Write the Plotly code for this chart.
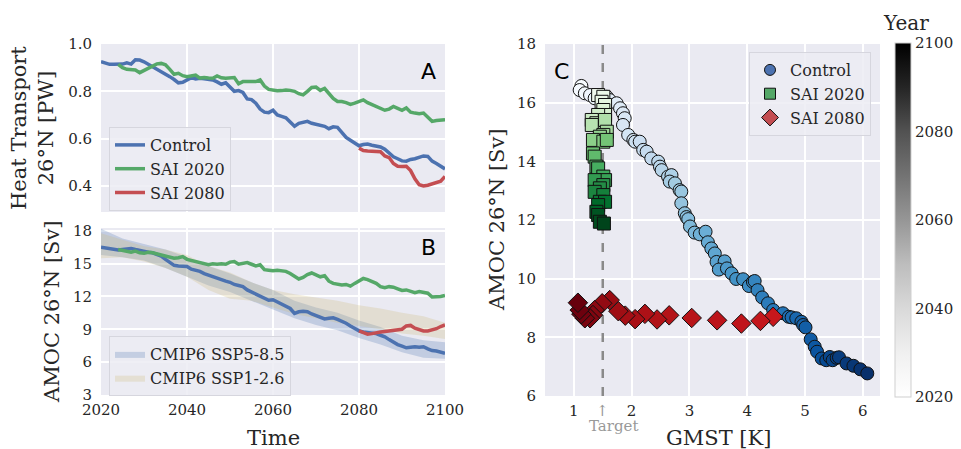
import plotly.graph_objects as go

# ---------------- data ----------------
years = list(range(2020, 2101))
years_sai2020 = list(range(2024, 2101))
years_sai2080 = list(range(2080, 2101))

ht_control = [0.925, 0.918, 0.914, 0.914, 0.913, 0.915, 0.920, 0.915, 0.933, 0.932,
              0.925, 0.915, 0.905, 0.893, 0.882, 0.873, 0.862, 0.850, 0.836, 0.838,
              0.848, 0.858, 0.852, 0.855, 0.853, 0.852, 0.848, 0.840, 0.830, 0.836,
              0.818, 0.800, 0.803, 0.795, 0.768, 0.765, 0.750, 0.725, 0.712, 0.710,
              0.720, 0.700, 0.694, 0.688, 0.670, 0.652, 0.665, 0.668, 0.673, 0.665,
              0.660, 0.655, 0.652, 0.642, 0.650, 0.648, 0.625, 0.605, 0.593, 0.582,
              0.570, 0.575, 0.577, 0.572, 0.567, 0.565, 0.555, 0.537, 0.523, 0.515,
              0.506, 0.505, 0.512, 0.515, 0.520, 0.527, 0.525, 0.505, 0.495, 0.485,
              0.472]
ht_sai2020 = [0.914, 0.900, 0.893, 0.890, 0.890, 0.879, 0.888, 0.900, 0.910, 0.916,
              0.918, 0.912, 0.893, 0.872, 0.876, 0.866, 0.862, 0.865, 0.869, 0.856,
              0.858, 0.856, 0.855, 0.865, 0.857, 0.855, 0.855, 0.858, 0.832, 0.841,
              0.841, 0.841, 0.841, 0.848, 0.822, 0.808, 0.804, 0.802, 0.803, 0.806,
              0.804, 0.800, 0.790, 0.785, 0.800, 0.816, 0.818, 0.804, 0.812, 0.790,
              0.770, 0.757, 0.757, 0.752, 0.745, 0.750, 0.758, 0.764, 0.752, 0.745,
              0.737, 0.729, 0.720, 0.725, 0.736, 0.728, 0.720, 0.730, 0.712, 0.708,
              0.705, 0.708, 0.690, 0.673, 0.677, 0.680, 0.680]
ht_sai2080 = [0.560, 0.550, 0.548, 0.547, 0.546, 0.545, 0.527, 0.520, 0.495, 0.483,
              0.482, 0.483, 0.465, 0.430, 0.405, 0.400, 0.403, 0.410, 0.415, 0.420,
              0.440]

amoc_control = [16.5, 16.45, 16.4, 16.3, 16.25, 16.3, 16.35, 16.4, 16.3, 16.2,
                16.1, 16.05, 16.0, 15.85, 15.7, 15.4, 15.1, 14.85, 14.8, 14.8,
                14.75, 14.5, 14.4, 14.3, 14.1, 13.95, 13.8, 13.7, 13.5, 13.4,
                13.3, 13.1, 13.0, 12.9, 12.6, 12.4, 12.2, 12.0, 11.8, 11.65,
                11.7, 11.5, 11.3, 11.1, 10.9, 10.45, 10.6, 10.65, 10.6, 10.4,
                10.25, 10.15, 9.95, 10.0, 10.05, 9.9, 9.75, 9.55, 9.3, 9.05,
                8.85, 8.75, 8.7, 8.7, 8.6, 8.45, 8.3, 8.05, 7.8, 7.6,
                7.45, 7.3, 7.35, 7.4, 7.35, 7.4, 7.2, 7.05, 7.0, 6.9,
                6.8]
amoc_sai2020 = [16.3, 16.2, 16.1, 16.05, 16.15, 16.0, 15.95, 16.05, 16.0, 15.9,
                15.85, 15.7, 15.6, 15.5, 15.55, 15.65, 15.4, 15.3, 15.15, 15.05,
                14.95, 14.9, 15.0, 14.95, 15.0, 14.95, 15.15, 15.2, 14.95, 15.05,
                15.1, 14.95, 14.8, 14.9, 14.45, 14.4, 14.35, 14.4, 14.35, 14.3,
                14.1, 13.85, 13.6, 13.75, 14.0, 14.15, 14.0, 13.8, 13.9, 13.4,
                13.2, 13.1, 13.05, 13.1, 12.95, 13.2, 13.45, 13.65, 13.55, 13.4,
                13.2, 12.9, 12.8, 12.9, 12.85, 12.7, 12.55, 12.6, 12.45, 12.35,
                12.45, 12.4, 12.3, 11.95, 11.95, 12.0, 12.1]
amoc_sai2080 = [8.85, 8.7, 8.55, 8.6, 8.7, 8.75, 8.8, 8.85, 8.85, 8.9,
                9.0, 9.3, 9.35, 9.1, 8.95, 8.85, 8.85, 8.95, 9.05, 9.25,
                9.4]

band_years = [2020, 2025, 2030, 2035, 2040, 2045, 2050, 2055, 2060, 2065,
              2070, 2075, 2080, 2085, 2090, 2095, 2100]
ssp585_upper = [18.2, 17.3, 16.8, 16.3, 15.6, 14.8, 14.1, 13.3, 12.6, 11.6,
                11.0, 10.5, 9.8, 9.2, 8.4, 8.0, 7.8]
ssp585_lower = [15.8, 15.6, 15.3, 14.6, 13.8, 13.0, 12.4, 11.6, 10.8, 10.0,
                9.4, 8.9, 8.2, 7.6, 6.9, 6.4, 6.3]
ssp126_upper = [17.8, 17.2, 16.6, 16.3, 15.8, 14.8, 14.2, 13.3, 12.6, 12.2,
                11.9, 11.6, 11.2, 10.9, 10.5, 10.2, 9.6]
ssp126_lower = [15.5, 15.6, 15.2, 14.6, 13.8, 12.6, 11.8, 11.6, 11.0, 10.4,
                10.0, 9.6, 9.3, 9.0, 8.6, 8.4, 8.1]

# Panel C scatter
c_ctrl_gmst = [1.13, 1.10, 1.19, 1.28, 1.36, 1.45, 1.57, 1.62, 1.74, 1.80,
               1.85, 1.88, 1.85, 1.94, 2.03, 2.06, 2.14, 2.20, 2.26, 2.34,
               2.46, 2.49, 2.52, 2.63, 2.69, 2.66, 2.75, 2.83, 2.86, 2.86,
               2.92, 2.95, 2.98, 3.01, 3.09, 3.18, 3.28, 3.32, 3.38, 3.44,
               3.47, 3.61, 3.51, 3.65, 3.73, 3.81, 3.93, 4.03, 4.10, 4.13,
               4.18, 4.26, 4.36, 4.45, 4.62, 4.72, 4.77, 4.85, 4.94, 4.97,
               5.01, 5.10, 5.17, 5.21, 5.29, 5.37, 5.43, 5.48, 5.55, 5.59,
               5.72, 5.84, 5.96, 6.08]
c_ctrl_amoc = [16.57, 16.43, 16.32, 16.26, 16.15, 16.20, 16.20, 16.09, 15.98, 15.81,
               15.64, 15.47, 15.24, 14.90, 14.73, 14.67, 14.67, 14.39, 14.33, 14.10,
               13.99, 13.82, 13.70, 13.48, 13.53, 13.31, 13.25, 13.02, 12.97, 12.57,
               12.23, 12.10, 12.03, 11.78, 11.57, 11.51, 11.60, 11.24, 11.03, 10.86,
               10.57, 10.59, 10.31, 10.35, 10.18, 9.99, 9.98, 9.75, 9.89, 9.92,
               9.61, 9.36, 9.16, 8.93, 8.82, 8.70, 8.68, 8.65, 8.53, 8.42,
               8.34, 7.93, 7.68, 7.51, 7.28, 7.22, 7.33, 7.22, 7.30, 7.32,
               7.11, 7.03, 6.91, 6.77]
c_ctrl_year = [2020, 2021, 2022, 2023, 2024, 2026, 2027, 2028, 2029, 2030,
               2031, 2032, 2033, 2034, 2035, 2037, 2038, 2039, 2040, 2041,
               2042, 2043, 2044, 2045, 2046, 2048, 2049, 2050, 2051, 2052,
               2053, 2054, 2055, 2056, 2057, 2059, 2060, 2061, 2062, 2063,
               2064, 2065, 2066, 2067, 2068, 2070, 2071, 2072, 2073, 2074,
               2075, 2076, 2077, 2078, 2079, 2081, 2082, 2083, 2084, 2085,
               2086, 2087, 2088, 2089, 2090, 2092, 2093, 2094, 2095, 2096,
               2097, 2098, 2099, 2100]

c_s20_gmst = [1.42, 1.51, 1.48, 1.54, 1.51, 1.54, 1.42, 1.31, 1.39, 1.31,
              1.54, 1.57, 1.51, 1.45, 1.33, 1.51, 1.57, 1.33, 1.36, 1.39,
              1.42, 1.51, 1.54, 1.36, 1.51, 1.45, 1.36, 1.51, 1.45, 1.54,
              1.42, 1.39, 1.42, 1.45, 1.52]
c_s20_amoc = [16.26, 16.20, 16.03, 15.92, 15.75, 15.58, 15.58, 15.41, 15.30, 15.24,
              15.41, 15.01, 14.90, 14.84, 14.73, 14.67, 14.73, 14.27, 14.16, 13.82,
              13.76, 13.48, 13.36, 13.36, 13.19, 13.08, 12.96, 12.85, 12.62, 12.62,
              12.51, 12.28, 12.17, 11.94, 11.88]
c_s20_year = [2024, 2026, 2028, 2030, 2033, 2035, 2037, 2039, 2042, 2044,
              2046, 2048, 2051, 2053, 2055, 2057, 2060, 2062, 2064, 2066,
              2069, 2071, 2073, 2075, 2078, 2080, 2082, 2084, 2087, 2089,
              2091, 2093, 2096, 2098, 2100]

c_s80_gmst = [4.45, 4.23, 3.90, 3.48, 3.04, 2.65, 2.44, 2.23, 2.06, 1.89,
              1.77, 1.62, 1.49, 1.36, 1.33, 1.28, 1.19, 1.13, 1.10, 1.07]
c_s80_amoc = [8.70, 8.56, 8.47, 8.58, 8.66, 8.75, 8.61, 8.80, 8.62, 8.74,
              8.89, 9.27, 9.16, 8.93, 8.76, 8.65, 8.65, 8.79, 8.93, 9.18]
c_s80_year = [2081, 2082, 2083, 2084, 2085, 2086, 2087, 2088, 2089, 2090,
              2091, 2092, 2093, 2094, 2095, 2096, 2097, 2098, 2099, 2100]

target_gmst = 1.5
year_ticks = [2020, 2040, 2060, 2080, 2100]

# ---------------- style ----------------
# The page body keeps an 8px margin; the figure is sized so its right/bottom edge meets the window edge.
OFF = 8
W, H = 961 - OFF, 449 - OFF
BLUE, GREEN, RED = '#4C72B0', '#55A868', '#C44E52'
BG = '#EAEAF2'
TXT = '#262626'
SERIF = 'DejaVu Serif, serif'
SANS = 'DejaVu Sans, sans-serif'


def cs(cols):
    n = len(cols) - 1
    return [[i / n, c] for i, c in enumerate(cols)]


BLUES = cs(['#f7fbff', '#deebf7', '#c6dbef', '#9ecae1', '#6baed6', '#4292c6', '#2171b5', '#08519c', '#08306b'])
GREENS = cs(['#f7fcf5', '#e5f5e0', '#c7e9c0', '#a1d99b', '#74c476', '#41ab5d', '#238b45', '#006d2c', '#00441b'])
REDS = cs(['#fff5f0', '#fee0d2', '#fcbba1', '#fc9272', '#fb6a4a', '#ef3b2c', '#cb181d', '#a50f15', '#67000d'])
GREYS = cs(['#ffffff', '#f0f0f0', '#d9d9d9', '#bdbdbd', '#969696', '#737373', '#525252', '#252525', '#000000'])


def px_x(p):
    return (p - OFF) / W


def px_y(p):
    return 1 - (p - OFF) / H


fig = go.Figure()

# Panel A
for name, xs, ys, col in [('Control', years, ht_control, BLUE),
                          ('SAI 2020', years_sai2020, ht_sai2020, GREEN),
                          ('SAI 2080', years_sai2080, ht_sai2080, RED)]:
    fig.add_trace(go.Scatter(x=xs, y=ys, mode='lines', name=name,
                             line=dict(color=col, width=3.5),
                             xaxis='x', yaxis='y', legend='legend'))

# Panel B bands
fig.add_trace(go.Scatter(x=band_years + band_years[::-1],
                         y=ssp585_upper + ssp585_lower[::-1],
                         fill='toself', fillcolor='rgba(76,114,176,0.25)',
                         line=dict(width=0), mode='lines', name='CMIP6 SSP5-8.5',
                         xaxis='x2', yaxis='y2', legend='legend2'))
fig.add_trace(go.Scatter(x=band_years + band_years[::-1],
                         y=ssp126_upper + ssp126_lower[::-1],
                         fill='toself', fillcolor='rgba(204,185,116,0.25)',
                         line=dict(width=0), mode='lines', name='CMIP6 SSP1-2.6',
                         xaxis='x2', yaxis='y2', legend='legend2'))
for xs, ys, col in [(years, amoc_control, BLUE),
                    (years_sai2020, amoc_sai2020, GREEN),
                    (years_sai2080, amoc_sai2080, RED)]:
    fig.add_trace(go.Scatter(x=xs, y=ys, mode='lines', showlegend=False,
                             line=dict(color=col, width=3.5),
                             xaxis='x2', yaxis='y2'))

# Panel C: target line (drawn under markers)
fig.add_trace(go.Scatter(x=[target_gmst, target_gmst], y=[6, 18], mode='lines',
                         showlegend=False, line=dict(color='#8a8a8a', width=2.5, dash='dash'),
                         xaxis='x3', yaxis='y3'))

# Panel C scatter
for xs, ys, yr, scale, sym, sz in [(c_ctrl_gmst, c_ctrl_amoc, c_ctrl_year, BLUES, 'circle', 13),
                                   (c_s20_gmst, c_s20_amoc, c_s20_year, GREENS, 'square', 13),
                                   (c_s80_gmst, c_s80_amoc, c_s80_year, REDS, 'diamond', 15)]:
    fig.add_trace(go.Scatter(x=xs, y=ys, mode='markers', showlegend=False,
                             marker=dict(symbol=sym, size=sz, color=yr, colorscale=scale,
                                         cmin=2020, cmax=2100,
                                         line=dict(color='#111111', width=1)),
                             xaxis='x3', yaxis='y3'))
# legend entries for C
for name, col, sym, sz in [('Control', BLUE, 'circle', 11),
                           ('SAI 2020', GREEN, 'square', 11),
                           ('SAI 2080', RED, 'diamond', 13)]:
    fig.add_trace(go.Scatter(x=[None], y=[None], mode='markers', name=name,
                             marker=dict(symbol=sym, size=sz, color=col,
                                         line=dict(color='#111111', width=1)),
                             xaxis='x3', yaxis='y3', legend='legend3'))
# colorbar
fig.add_trace(go.Scatter(x=[None], y=[None], mode='markers', showlegend=False,
                         marker=dict(color=[2020], colorscale=GREYS, cmin=2020, cmax=2100,
                                     showscale=True,
                                     colorbar=dict(x=px_x(895), xanchor='left', xpad=0, ypad=0,
                                                   y=px_y(220), yanchor='middle',
                                                   lenmode='pixels', len=354,
                                                   thickness=16, outlinewidth=1,
                                                   outlinecolor='#cfcfcf',
                                                   tickvals=year_ticks, ticks='',
                                                   tickfont=dict(family=SERIF, size=15, color=TXT))),
                         xaxis='x3', yaxis='y3'))

axis_common = dict(showgrid=True, gridcolor='white', gridwidth=1.5, zeroline=False,
                   showline=False, ticks='', automargin=False,
                   tickfont=dict(family=SERIF, size=15, color=TXT))

dom_ab_x = [px_x(101), px_x(445)]
fig.update_layout(
    width=W, height=H, margin=dict(l=0, r=0, t=0, b=0, pad=0, autoexpand=False),
    paper_bgcolor='white', plot_bgcolor=BG,
    font=dict(family=SERIF, color=TXT),
    xaxis=dict(domain=dom_ab_x, anchor='y', range=[2020, 2100], tickvals=year_ticks,
               showticklabels=False, **axis_common),
    yaxis=dict(domain=[px_y(212), px_y(44)], anchor='x', range=[0.29, 1.0],
               tickvals=[0.4, 0.6, 0.8, 1.0], ticktext=['0.4', '0.6', '0.8', '1.0'],
               ticklabelstandoff=8, **axis_common),
    xaxis2=dict(domain=dom_ab_x, anchor='y2', range=[2020, 2100], tickvals=year_ticks,
                ticklabelstandoff=4, **axis_common),
    yaxis2=dict(domain=[px_y(395), px_y(228)], anchor='x2', range=[2.98, 18.27],
                tickvals=[3, 6, 9, 12, 15, 18], ticklabelstandoff=8, **axis_common),
    xaxis3=dict(domain=[px_x(545), px_x(880)], anchor='y3', range=[0.5, 6.3],
                tickvals=[1, 2, 3, 4, 5, 6], ticklabelstandoff=4, **axis_common),
    yaxis3=dict(domain=[px_y(396), px_y(44)], anchor='x3', range=[6, 18],
                tickvals=[6, 8, 10, 12, 14, 16, 18], ticklabelstandoff=8, **axis_common),
)

leg_common = dict(xanchor='left', yanchor='top', bgcolor='rgba(236,236,243,0.85)',
                  bordercolor='#d6d6de', borderwidth=1,
                  font=dict(family=SERIF, size=16, color=TXT))
fig.update_layout(
    legend=dict(x=px_x(109), y=px_y(127), **leg_common),
    legend2=dict(x=px_x(109), y=px_y(336), **leg_common),
    legend3=dict(x=px_x(749), y=px_y(52), **leg_common),
)

ann = []


def A(text, x, y, size, family=SERIF, color=TXT, angle=0, xref='paper'):
    ann.append(dict(text=text, x=x, y=y, xref=xref, yref='paper', showarrow=False,
                    xanchor='center', yanchor='middle', textangle=angle,
                    font=dict(family=family, size=size, color=color)))


A('A', px_x(428), px_y(72), 22, family=SANS, color='black')
A('B', px_x(428), px_y(247), 22, family=SANS, color='black')
A('C', px_x(561), px_y(72), 22, family=SANS, color='black')
A('Heat Transport<br>26°N [PW]', px_x(32), px_y(128), 21, angle=-90)
A('AMOC 26°N [Sv]', px_x(52), px_y(312), 21, angle=-90)
A('AMOC 26°N [Sv]', px_x(497), px_y(220), 21, angle=-90)
A('Time', px_x(273), px_y(438), 21)
A('GMST [K]', px_x(718), px_y(438), 21)
A('↑', target_gmst, px_y(411), 15, color='#999999', xref='x3')
A('Target', px_x(613), px_y(426), 15, color='#999999')
A('Year', px_x(906), px_y(23), 20)
fig.update_layout(annotations=ann)

fig.write_html('out.html')
